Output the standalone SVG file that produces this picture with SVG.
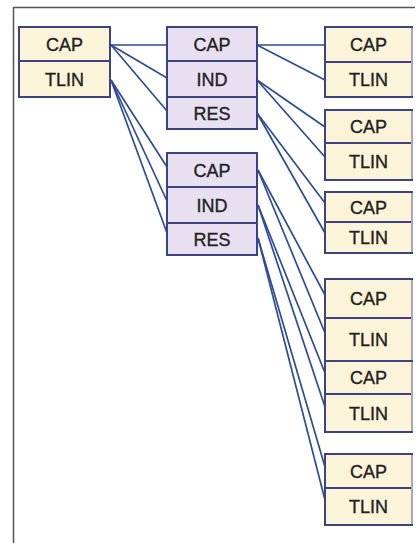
<svg xmlns="http://www.w3.org/2000/svg" width="417" height="543" viewBox="0 0 417 543">
<style>
.y{fill:#fcf4d8;stroke:#3c4383;stroke-width:2}
.p{fill:#e8e0f0;stroke:#3c4383;stroke-width:2}
.d{stroke:#3c4383;stroke-width:2}
.t{font-family:"Liberation Sans",Arial,sans-serif;font-size:18px;fill:#222;stroke:#222;stroke-width:0.35;text-anchor:middle}
.c line{stroke:#2e4a9a;stroke-width:1.7}
.f{stroke:#555;stroke-width:1.5;fill:none}
.g{stroke:#a9a5bc;stroke-width:2}
</style>
<rect width="417" height="543" fill="#fff"/>
<path class="f" d="M13.5,543 V7.5 H415"/>
<g class="c" id="connectors">
<line x1="111" y1="45" x2="167" y2="45"/>
<line x1="111" y1="45" x2="167" y2="78"/>
<line x1="111" y1="45" x2="167" y2="111"/>
<line x1="111" y1="80" x2="167" y2="167"/>
<line x1="111" y1="80" x2="167" y2="201"/>
<line x1="111" y1="80" x2="167" y2="233"/>
<line x1="257" y1="45" x2="325" y2="45"/>
<line x1="257" y1="45" x2="325" y2="80"/>
<line x1="257" y1="80" x2="325" y2="127"/>
<line x1="257" y1="80" x2="325" y2="157"/>
<line x1="257" y1="113" x2="325" y2="203"/>
<line x1="257" y1="113" x2="325" y2="233"/>
<line x1="258" y1="170" x2="325" y2="295"/>
<line x1="258" y1="170" x2="325" y2="333"/>
<line x1="258" y1="205" x2="325" y2="373"/>
<line x1="258" y1="205" x2="325" y2="407"/>
<line x1="258" y1="238" x2="325" y2="467"/>
<line x1="258" y1="238" x2="325" y2="500"/>
</g>
<g id="n-left">
<rect class="y" x="19" y="27" width="91" height="70"/>
<line class="d" x1="19" y1="61" x2="110" y2="61"/>
<text class="t" x="64.5" y="50.5">CAP</text>
<text class="t" x="64.5" y="85.5">TLIN</text>
</g>
<g id="n-mid1">
<rect class="p" x="167" y="27" width="90" height="102"/>
<line class="d" x1="167" y1="61" x2="257" y2="61"/>
<line class="d" x1="167" y1="97" x2="257" y2="97"/>
<text class="t" x="212" y="50.5">CAP</text>
<text class="t" x="212" y="85.5">IND</text>
<text class="t" x="212" y="119.5">RES</text>
</g>
<g id="n-mid2">
<rect class="p" x="167" y="153" width="90" height="102"/>
<line class="d" x1="167" y1="187" x2="257" y2="187"/>
<line class="d" x1="167" y1="223" x2="257" y2="223"/>
<text class="t" x="212" y="176.5">CAP</text>
<text class="t" x="212" y="211.5">IND</text>
<text class="t" x="212" y="245.5">RES</text>
</g>
<g id="n-r1">
<rect class="y" x="325" y="27" width="87" height="70"/>
<line class="d" x1="325" y1="62" x2="412" y2="62"/>
<line class="g" x1="412" y1="28" x2="412" y2="96"/>
<text class="t" x="368.5" y="51">CAP</text>
<text class="t" x="368.5" y="86">TLIN</text>
</g>
<g id="n-r2">
<rect class="y" x="325" y="110" width="87" height="70"/>
<line class="d" x1="325" y1="143" x2="412" y2="143"/>
<line class="g" x1="412" y1="111" x2="412" y2="179"/>
<text class="t" x="368.5" y="133">CAP</text>
<text class="t" x="368.5" y="168">TLIN</text>
</g>
<g id="n-r3">
<rect class="y" x="325" y="192" width="87" height="61"/>
<line class="d" x1="325" y1="222" x2="412" y2="222"/>
<line class="g" x1="412" y1="193" x2="412" y2="252"/>
<text class="t" x="368.5" y="213.5">CAP</text>
<text class="t" x="368.5" y="244">TLIN</text>
</g>
<g id="n-r4">
<rect class="y" x="325" y="279" width="87" height="82"/>
<line class="d" x1="325" y1="318" x2="412" y2="318"/>
<line class="g" x1="412" y1="280" x2="412" y2="360"/>
<text class="t" x="368.5" y="305">CAP</text>
<text class="t" x="368.5" y="346">TLIN</text>
</g>
<g id="n-r5">
<rect class="y" x="325" y="361" width="87" height="71"/>
<line class="d" x1="325" y1="394" x2="412" y2="394"/>
<line class="g" x1="412" y1="362" x2="412" y2="431"/>
<text class="t" x="368.5" y="384">CAP</text>
<text class="t" x="368.5" y="419.5">TLIN</text>
</g>
<g id="n-r6">
<rect class="y" x="325" y="454" width="87" height="71"/>
<line class="d" x1="325" y1="488" x2="412" y2="488"/>
<line class="g" x1="412" y1="455" x2="412" y2="524"/>
<text class="t" x="368.5" y="477.5">CAP</text>
<text class="t" x="368.5" y="513">TLIN</text>
</g>
</svg>
